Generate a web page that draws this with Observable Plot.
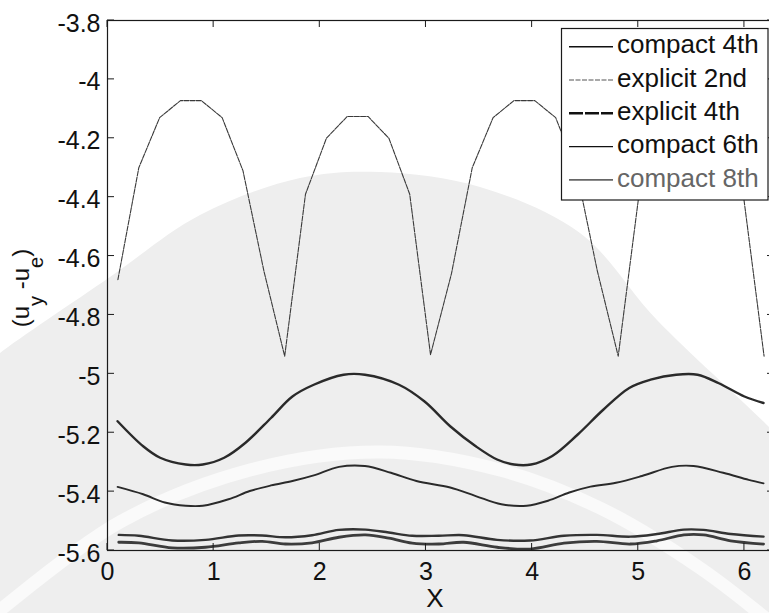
<!DOCTYPE html>
<html>
<head>
<meta charset="utf-8">
<script src="https://cdn.jsdelivr.net/npm/d3@7"></script>
<script src="https://cdn.jsdelivr.net/npm/@observablehq/plot@0.6"></script>
<style>
html, body { margin: 0; padding: 0; background: #fff; overflow: hidden; }
#chart { position: absolute; left: 0; top: 0; width: 769px; height: 613px; overflow: hidden; }
</style>
</head>
<body>
<div id="chart"></div>
<script>
// ---- Data ----
const seriesNames = ["compact 4th", "explicit 2nd", "explicit 4th", "compact 6th", "compact 8th"];

// explicit 2nd (large oscillating curve)
const xExplicit2nd = [0.098, 0.295, 0.491, 0.687, 0.884, 1.080, 1.276, 1.473, 1.669, 1.865, 2.062, 2.258, 2.454, 2.651, 2.847, 3.043,
                      3.240, 3.436, 3.632, 3.829, 4.025, 4.222, 4.418, 4.614, 4.811, 5.007, 5.203, 5.400, 5.596, 5.792, 5.989, 6.185];
const yExplicit2nd = [-4.68, -4.30, -4.13, -4.072, -4.072, -4.13, -4.31, -4.65, -4.94, -4.39, -4.20, -4.126, -4.126, -4.20, -4.39, -4.935,
                      -4.66, -4.30, -4.13, -4.072, -4.072, -4.13, -4.31, -4.65, -4.94, -4.39, -4.20, -4.126, -4.126, -4.20, -4.39, -4.94];

// explicit 4th
const xExplicit4th = [0.095, 0.336, 0.496, 0.737, 0.898, 1.099, 1.30, 1.54, 1.742, 1.943, 2.224, 2.425, 2.746, 2.987, 3.228,
                      3.469, 3.67, 3.83, 3.99, 4.19, 4.43, 4.67, 4.915, 5.116, 5.357, 5.558, 5.759, 6.0, 6.18];
const yExplicit4th = [-5.161, -5.246, -5.285, -5.308, -5.308, -5.285, -5.234, -5.15, -5.077, -5.037, -5.003, -5.003, -5.037, -5.094, -5.178,
                      -5.246, -5.291, -5.308, -5.308, -5.279, -5.206, -5.122, -5.048, -5.02, -5.003, -5.003, -5.032, -5.077, -5.099];

// compact 4th
const xCompact4th = [0.095, 0.336, 0.54, 0.737, 0.898, 1.14, 1.34, 1.54, 1.742, 1.943, 2.18, 2.425, 2.67, 2.91,
                     3.228, 3.469, 3.71, 3.95, 4.15, 4.35, 4.55, 4.79, 5.035, 5.317, 5.52, 5.80, 6.04, 6.18];
const yCompact4th = [-5.384, -5.409, -5.437, -5.448, -5.448, -5.426, -5.398, -5.379, -5.364, -5.345, -5.316, -5.313, -5.336, -5.364,
                     -5.386, -5.415, -5.443, -5.448, -5.431, -5.403, -5.383, -5.37, -5.347, -5.316, -5.313, -5.336, -5.36, -5.372];

// compact 6th and 8th (bottom pair)
const xCompactHigh = [0.106, 0.295, 0.609, 0.923, 1.236, 1.457, 1.676, 1.927, 2.18, 2.43, 2.65, 2.87, 3.12,
                      3.355, 3.67, 3.98, 4.30, 4.61, 4.925, 5.176, 5.43, 5.615, 5.87, 6.18];
const yCompact6th = [-5.547, -5.550, -5.566, -5.564, -5.549, -5.549, -5.555, -5.548, -5.530, -5.529, -5.539, -5.550, -5.550,
                     -5.548, -5.564, -5.566, -5.550, -5.547, -5.553, -5.544, -5.529, -5.530, -5.544, -5.553];
const yCompact8th = [-5.572, -5.574, -5.591, -5.589, -5.574, -5.569, -5.578, -5.574, -5.555, -5.547, -5.558, -5.575, -5.578,
                     -5.572, -5.589, -5.595, -5.575, -5.569, -5.578, -5.567, -5.547, -5.547, -5.567, -5.578];

// axes
const xDomain = [0, 6.2832];
const yDomain = [-5.6, -3.8];
const xTicks = [0, 1, 2, 3, 4, 5, 6];
const xTickLabels = ["0", "1", "2", "3", "4", "5", "6"];
const yTicks = [-3.8, -4, -4.2, -4.4, -4.6, -4.8, -5, -5.2, -5.4, -5.6];
const yTickLabels = ["-3.8", "-4", "-4.2", "-4.4", "-4.6", "-4.8", "-5", "-5.2", "-5.4", "-5.6"];
const xLabel = "X";

// ---- Build ----
const rows = (xs, ys) => xs.map((x, i) => ({x, y: ys[i]}));

const styles = {
  "compact 4th":  {stroke: "#2a2a2a", strokeWidth: 1.9, strokeDasharray: null, curve: "catmull-rom"},
  "explicit 2nd": {stroke: "#3a3a3a", strokeWidth: 1.1, strokeDasharray: "5,1.2", curve: "linear"},
  "explicit 4th": {stroke: "#2a2a2a", strokeWidth: 2.4, strokeDasharray: null, curve: "catmull-rom"},
  "compact 6th":  {stroke: "#333333", strokeWidth: 2.4, strokeDasharray: null, curve: "catmull-rom"},
  "compact 8th":  {stroke: "#3c3c3c", strokeWidth: 2.8, strokeDasharray: null, curve: "catmull-rom"}
};
const legendStyles = {
  "compact 4th":  {stroke: "#111", strokeWidth: 1.4, dash: null},
  "explicit 2nd": {stroke: "#555", strokeWidth: 1.2, dash: "5,1.5"},
  "explicit 4th": {stroke: "#111", strokeWidth: 2.6, dash: "14,2"},
  "compact 6th":  {stroke: "#111", strokeWidth: 1.4, dash: null},
  "compact 8th":  {stroke: "#666", strokeWidth: 1.6, dash: null}
};
const seriesData = {
  "explicit 2nd": rows(xExplicit2nd, yExplicit2nd),
  "explicit 4th": rows(xExplicit4th, yExplicit4th),
  "compact 4th": rows(xCompact4th, yCompact4th),
  "compact 6th": rows(xCompactHigh, yCompact6th),
  "compact 8th": rows(xCompactHigh, yCompact8th)
};

const W = 769, H = 613;
const font = "'Liberation Sans', Arial, Helvetica, sans-serif";

const plot = Plot.plot({
  width: W, height: H,
  marginLeft: 107, marginTop: 20, marginBottom: 63, marginRight: -5,
  style: {background: "white", fontFamily: font, fontSize: "25px", color: "#111", overflow: "hidden"},
  x: {domain: xDomain, label: null},
  y: {domain: yDomain, label: null},
  marks: [
    Plot.axisX(xTicks, {tickSize: 0, tickPadding: 12, label: null, fontSize: 25,
      tickFormat: d => xTickLabels[xTicks.indexOf(d)]}),
    Plot.axisY(yTicks, {tickSize: 0, tickPadding: 7, label: null, fontSize: 25, dy: 3,
      tickFormat: d => yTickLabels[yTicks.indexOf(d)]}),
    ...Object.keys(seriesData).map(name => Plot.line(seriesData[name], {
      x: "x", y: "y",
      curve: styles[name].curve,
      stroke: styles[name].stroke,
      strokeWidth: styles[name].strokeWidth,
      strokeDasharray: styles[name].strokeDasharray
    })),
    Plot.frame({stroke: "#1a1a1a", strokeWidth: 1.2})
  ]
});

const svg = d3.select(plot);
const sx = plot.scale("x"), sy = plot.scale("y");
const [xl, xr] = sx.range;
const [yb, yt] = sy.range;

// faint watermark background (decoration behind the chart)
const wmEdge = [[-10, 362], [0, 353], [110, 277], [200, 215], [300, 178], [380, 172], [480, 187], [580, 233], [657, 320], [769, 427], [790, 450]];
const wmLine = d3.line().curve(d3.curveCatmullRom);
const wm = svg.insert("g", ":first-child");
wm.append("path")
  .attr("d", wmLine(wmEdge) + "L790,640L-10,640Z")
  .attr("fill", "#eeeeee");
wm.append("path")
  .attr("d", wmLine([[-10, 618], [0, 610], [120, 522], [250, 470], [380, 452], [500, 470], [600, 508], [700, 568], [780, 630]]))
  .attr("fill", "none").attr("stroke", "#fafafa").attr("stroke-width", 13);

// inward tick marks (MATLAB style), on all four sides
const tl = 7;
const tg = svg.append("g").attr("stroke", "#1a1a1a").attr("stroke-width", 1);
xTicks.forEach(t => {
  const px = sx.apply(t);
  tg.append("line").attr("x1", px).attr("x2", px).attr("y1", yb).attr("y2", yb - tl);
  tg.append("line").attr("x1", px).attr("x2", px).attr("y1", yt).attr("y2", yt + tl);
});
yTicks.forEach(t => {
  const py = sy.apply(t);
  tg.append("line").attr("x1", xl).attr("x2", xl + tl).attr("y1", py).attr("y2", py);
  tg.append("line").attr("x1", xr).attr("x2", xr - tl).attr("y1", py).attr("y2", py);
});

// x label
svg.append("text").attr("x", 435).attr("y", 607)
  .attr("text-anchor", "middle").attr("fill", "#111")
  .style("font-family", font).style("font-size", "26px").text(xLabel);

// y label with subscripts
const yl = svg.append("text").attr("transform", "translate(29,288) rotate(-90)")
  .attr("text-anchor", "middle").attr("fill", "#111")
  .style("font-family", font).style("font-size", "24px");
yl.append("tspan").text("(u");
yl.append("tspan").attr("dy", 14).style("font-size", "20px").text("y");
yl.append("tspan").attr("dy", -14).text("\u00a0-u");
yl.append("tspan").attr("dy", 14).style("font-size", "20px").text("e");
yl.append("tspan").attr("dy", -14).text(")");

// legend
const lg = svg.append("g").attr("text-anchor", "start");
lg.append("rect").attr("x", 561.5).attr("y", 28.5).attr("width", 206.5).attr("height", 171.5)
  .attr("fill", "white").attr("stroke", "#1a1a1a").attr("stroke-width", 1.2);
seriesNames.forEach((name, i) => {
  const base = 53.3 + 33.3 * i;
  const ls = legendStyles[name];
  lg.append("line").attr("x1", 569).attr("x2", 613).attr("y1", base - 6.6).attr("y2", base - 6.6)
    .attr("stroke", ls.stroke).attr("stroke-width", ls.strokeWidth)
    .attr("stroke-dasharray", ls.dash);
  lg.append("text").attr("x", 617).attr("y", base).attr("text-anchor", "start")
    .attr("fill", name === "compact 8th" ? "#666" : "#111")
    .style("font-family", font).style("font-size", "26px").text(name);
});

document.getElementById("chart").appendChild(plot);
</script>
</body>
</html>
